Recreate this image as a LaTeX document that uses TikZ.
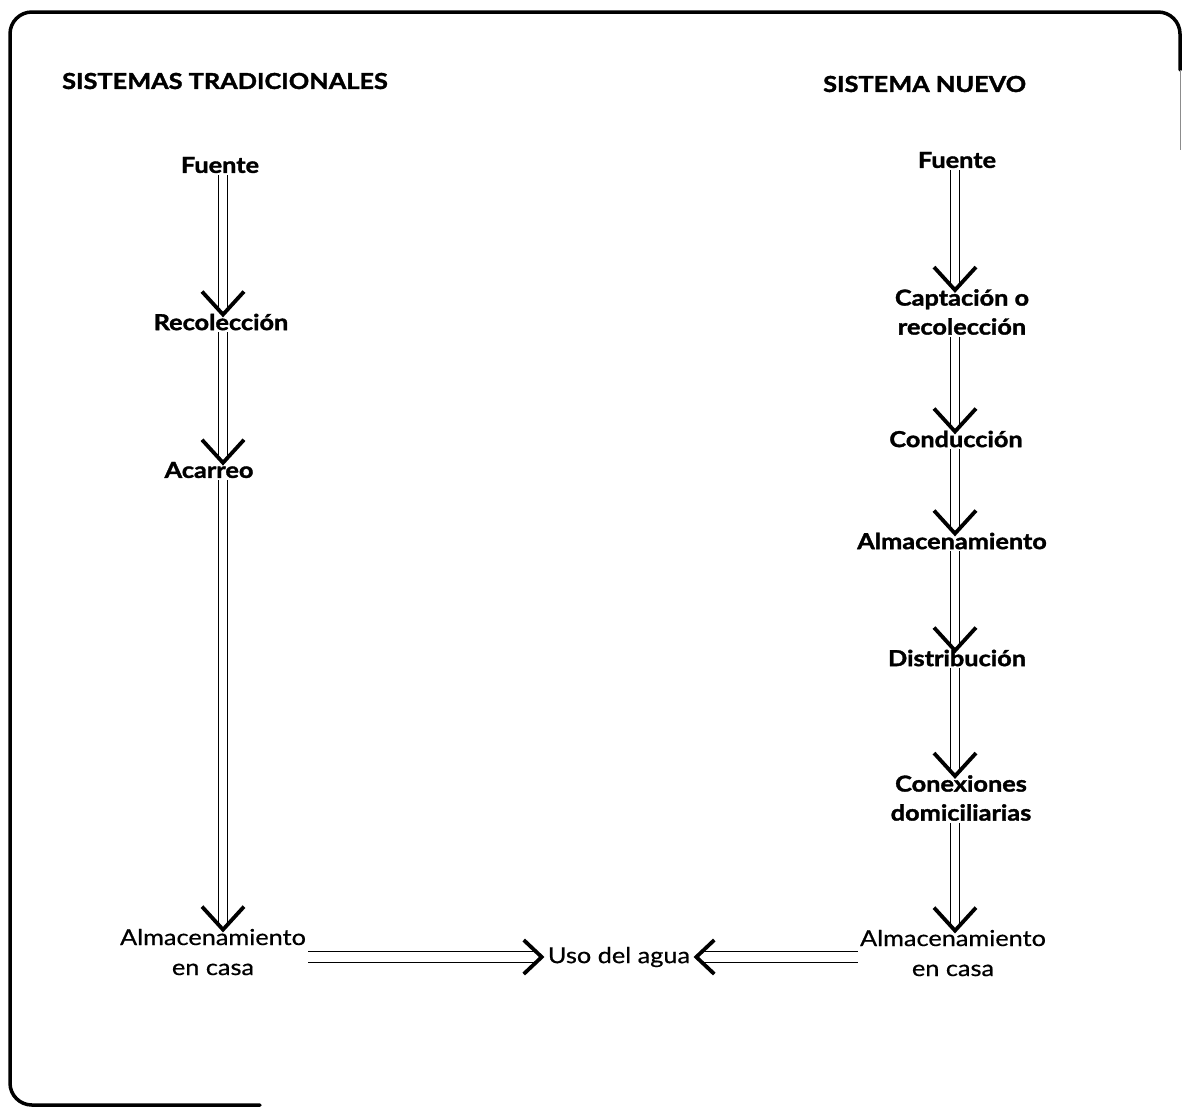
\documentclass[tikz,border=0pt]{standalone}
\usepackage{fontspec}
\setmainfont[FakeStretch=1.15, FakeBold=0.6, BoldFeatures={FakeBold=1.6}]{Lato}
\usetikzlibrary{calc}
\tikzset{
  lbl/.style={font=\fontsize{22bp}{29bp}\selectfont\bfseries, align=center, inner sep=2bp},
  lblr/.style={lbl, font=\fontsize{22bp}{30bp}\selectfont},
  ttl/.style={font=\fontsize{22bp}{25bp}\selectfont\bfseries, anchor=west, inner sep=0pt},
  dl/.style={line width=1.7bp},
  vh/.style={line width=3.8bp, line join=miter},
  frame/.style={line width=3.5bp, line cap=round}
}
\newcommand\varr[2]{%
  \draw[dl] ($#1+(-4.5,0)$) -- ($#2+(-4.5,-1)$);
  \draw[dl] ($#1+(4.5,0)$) -- ($#2+(4.5,-1)$);
  \draw[vh] ($#2+(-21,-20)$) -- ($#2+(0,3)$) -- ($#2+(21,-20)$);}
\newcommand\harr[3]{%
  \draw[dl] ($#1+(0,-5.5)$) -- ($#2+(#3*0.3,-5.5)$);
  \draw[dl] ($#1+(0,5.5)$) -- ($#2+(#3*0.3,5.5)$);
  \draw[vh] ($#2+(#3,-17)$) -- #2 -- ($#2+(#3,17)$);}
\begin{document}
\begin{tikzpicture}[x=1bp,y=-1bp]
\useasboundingbox (0,0) rectangle (1182,1107);
% frame
\draw[frame, rounded corners=22] (1180,70) -- (1180,12) -- (10,12) -- (10,1105) -- (260,1105);
\draw[line width=0.8bp, black!45] (1180,70) -- (1180,150);
% titles
\node[ttl] (t1) at (62,81) {SISTEMAS TRADICIONALES};
\node[ttl] (t2) at (823,84) {SISTEMA NUEVO};
% left column
\node[lbl] (lf1) at (220,165) {Fuente};
\node[lbl] (lf2) at (221,322) {Recolección};
\node[lbl] (lf3) at (209,470) {Acarreo};
\node[lblr] (lf4) at (213,952) {Almacenamiento\\en casa};
% right column
\node[lbl] (rf1) at (957,160) {Fuente};
\node[lbl] (rf2) at (962,312) {Captación o\\recolección};
\node[lbl] (rf3) at (956,439) {Conducción};
\node[lbl] (rf4) at (952,541) {Almacenamiento};
\node[lbl] (rf5) at (957,658) {Distribución};
\node[lbl] (rf6) at (961,798) {Conexiones\\domiciliarias};
\node[lblr] (rf7) at (953,953) {Almacenamiento\\en casa};
% center
\node[lblr, inner sep=6bp] (uso) at (619,957) {Uso del agua};
% column axes
\coordinate (lx) at (223,0);
\coordinate (rx) at (955,0);
% arrows
\varr{(lf1.south -| lx)}{(lf2.north -| lx)}
\varr{(lf2.south -| lx)}{(lf3.north -| lx)}
\varr{(lf3.south -| lx)}{(lf4.north -| lx)}
\varr{(rf1.south -| rx)}{(rf2.north -| rx)}
\varr{(rf2.south -| rx)}{(rf3.north -| rx)}
\varr{(rf3.south -| rx)}{(rf4.north -| rx)}
\varr{(rf4.south -| rx)}{(rf5.north -| rx)}
\varr{(rf5.south -| rx)}{(rf6.north -| rx)}
\varr{(rf6.south -| rx)}{(rf7.north -| rx)}
\harr{(lf4.east |- uso.west)}{(uso.west)}{-18}
\harr{(rf7.west |- uso.east)}{(uso.east)}{18}
\end{tikzpicture}
\end{document}
